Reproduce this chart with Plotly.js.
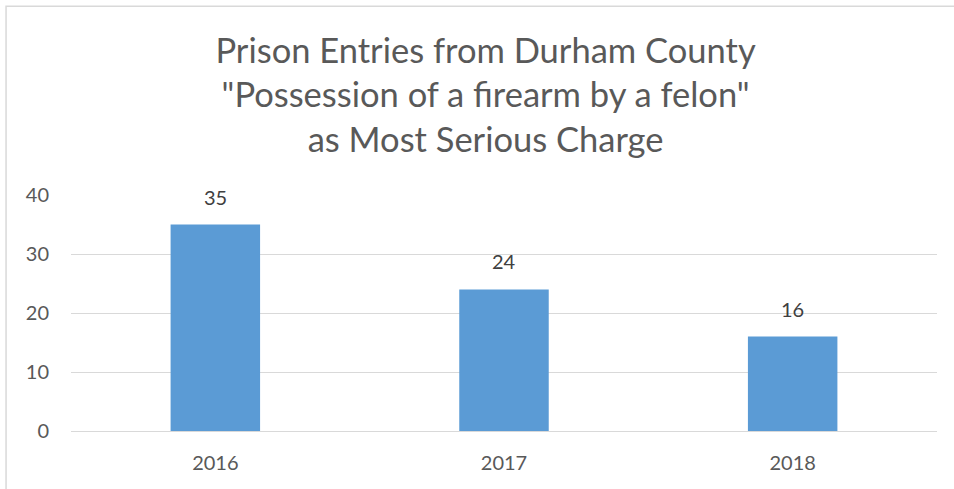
<!DOCTYPE html>
<html><head><meta charset="utf-8">
<script src="https://cdn.plot.ly/plotly-3.0.1.min.js"></script>
<style>html,body{margin:0;padding:0;background:#fff}#c{width:954px;height:489px}</style>
</head><body><div id="c"></div>
<script>
const years = ["2016", "2017", "2018"];
const entries = [35, 24, 16];
const yTicks = [0, 10, 20, 30, 40];
const titleText = 'Prison Entries from Durham County<br>"Possession of a firearm by a felon"<br>as Most Serious Charge';

const font = "Lato, 'Open Sans', sans-serif";
const trace = {
  type: 'bar', x: years, y: entries,
  marker: {color: '#5B9BD5'},
  hoverinfo: 'none'
};
const annotations = years.map((yr, i) => ({
  x: i, y: entries[i], text: String(entries[i]), showarrow: false,
  xref: 'x', yref: 'y', yanchor: 'bottom', yshift: 14,
  font: {family: font, size: 20, color: '#404040'}
}));
const layout = {
  width: 954, height: 489,
  margin: {l: 71, r: 17, t: 195, b: 58},
  paper_bgcolor: '#fff', plot_bgcolor: '#fff',
  title: {text: titleText, x: 0.509, xanchor: 'center', y: 0.872, yanchor: 'top',
    font: {family: font, size: 34.5, color: '#595959'}},
  bargap: 0.69,
  showlegend: false,
  xaxis: {type: 'category', range: [-0.5, 2.5], showgrid: false, zeroline: false, showline: true,
    linecolor: '#D9D9D9', linewidth: 1, ticks: '', ticklabelstandoff: 14,
    tickfont: {family: font, size: 20, color: '#595959'}},
  yaxis: {range: [0, 40], tickvals: yTicks, showgrid: true, gridcolor: '#D9D9D9',
    gridwidth: 1, zeroline: false, showline: false, ticks: '', ticklabelstandoff: 21,
    tickfont: {family: font, size: 20, color: '#595959'}},
  annotations: annotations,
  shapes: [{type: 'rect', xref: 'paper', yref: 'paper', x0: -0.075, x1: 1.1, y0: -0.4, y1: 1.8,
    line: {color: '#D9D9D9', width: 1.5}, fillcolor: 'rgba(0,0,0,0)', layer: 'below'}]
};
Plotly.newPlot('c', [trace], layout, {displayModeBar: false, staticPlot: true});
</script></body></html>
